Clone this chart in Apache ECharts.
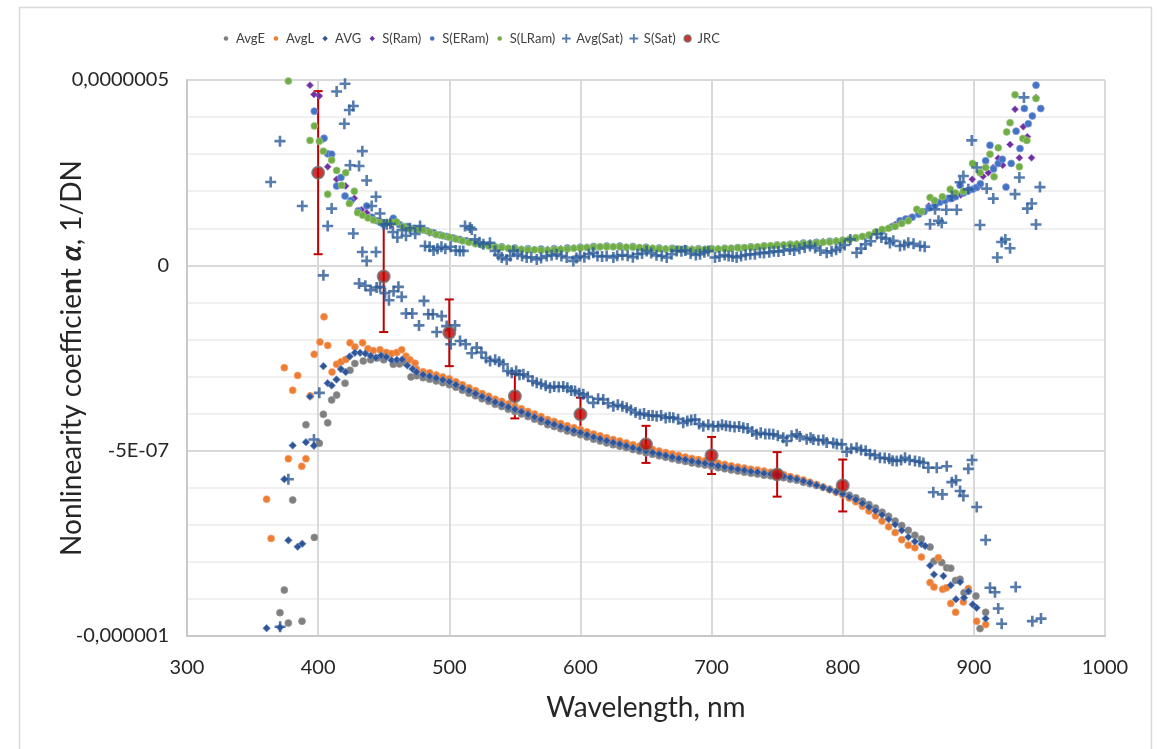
<!DOCTYPE html>
<html>
<head>
<meta charset="utf-8">
<script src="https://cdn.jsdelivr.net/npm/echarts@6/dist/echarts.min.js"></script>
<style>
  html, body { margin: 0; padding: 0; background: #ffffff; }
  #chart { width: 1158px; height: 749px; }
</style>
</head>
<body>
<div id="chart"></div>
<script>
// Nonlinearity coefficient vs wavelength. Values are [wavelength nm, alpha in units of 1e-7 1/DN].

const avgE = [
  [370.9,-9.37],[374.2,-8.76],[377.3,-9.65],[380.6,-6.33],[387.7,-9.6],[390.7,-4.3],[397.1,-7.34],
  [400.9,-4.8],[404,-4.02],[407.3,-4.25],[410.3,-3.63],[414.1,-3.5],[420.5,-3.18],[424.3,-2.83],
  [428,-2.65],[434.4,-2.58],[440,-2.55],[445,-2.5],[450,-2.55],[457.3,-2.67],[462,-2.66],[466,-2.62],
  [470.8,-3.01],[475,-2.98],[480,-3.03],[485,-3.07],[490,-3.12],[495,-3.17],[500,-3.22],[505,-3.29],
  [510,-3.37],[515,-3.45],[520,-3.52],[525,-3.6],[530,-3.67],[535,-3.75],[540,-3.81],[545,-3.88],
  [550,-3.94],[555,-4.01],[560,-4.08],[565,-4.15],[570,-4.22],[575,-4.3],[580,-4.35],[585,-4.41],
  [590,-4.47],[595,-4.52],[600,-4.57],[605,-4.63],[610,-4.69],[615,-4.74],[620,-4.79],[625,-4.84],
  [630,-4.88],[635,-4.92],[640,-4.97],[645,-5.01],[650,-5.06],[655,-5.1],[660,-5.14],[665,-5.18],
  [670,-5.22],[675,-5.26],[680,-5.29],[685,-5.33],[690,-5.36],[695,-5.39],[700,-5.42],[705,-5.46],
  [710,-5.49],[715,-5.52],[720,-5.55],[725,-5.58],[730,-5.61],[735,-5.63],[740,-5.66],[745,-5.68],
  [750,-5.7],[755,-5.73],[760,-5.77],[765,-5.8],[770,-5.85],[775,-5.89],[780,-5.94],[785,-5.99],
  [790,-6.04],[795,-6.1],[800,-6.14],[805,-6.2],[810,-6.27],[815,-6.36],[820,-6.45],[825,-6.55],
  [830,-6.66],[835,-6.77],[840,-6.9],[845,-7.02],[850,-7.15],[855,-7.28],[860,-7.38],[866.6,-7.6],
  [869.6,-7.98],[875.5,-8.02],[879.3,-8.16],[882.4,-8.17],[886,-8.5],[889.5,-8.47],[892.5,-8.83],
  [895.8,-8.79],[901.6,-8.92],[904.7,-9.8],[909,-9.36]
];

const avgL = [
  [360.7,-6.31],[364.1,-7.37],[374.2,-2.76],[377.3,-5.22],[380.6,-3.37],[384.4,-2.97],[387.5,-5.42],
  [390.7,-5.22],[394,-3.52],[397,-2.4],[401.4,-2.07],[404.5,-1.39],[407.3,-2.16],[410.6,-2.88],
  [414.1,-2.67],[417.5,-2.6],[421,-2.54],[424.3,-2.09],[428,-2.2],[433.9,-2.09],[438,-2.25],[442,-2.3],
  [447.2,-2.28],[452,-2.35],[456,-2.38],[460,-2.35],[463.7,-2.28],[467,-2.45],[470,-2.55],[473.9,-2.64],
  [475,-2.8],[480,-2.87],[485,-2.9],[490,-2.96],[495,-3.01],[500,-3.06],[505,-3.14],[510,-3.22],
  [515,-3.3],[520,-3.38],[525,-3.46],[530,-3.53],[535,-3.61],[540,-3.67],[545,-3.74],[550,-3.8],
  [555,-3.87],[560,-3.94],[565,-4.01],[570,-4.08],[575,-4.16],[580,-4.21],[585,-4.27],[590,-4.33],
  [595,-4.38],[600,-4.43],[605,-4.49],[610,-4.55],[615,-4.6],[620,-4.65],[625,-4.7],[630,-4.74],
  [635,-4.79],[640,-4.84],[645,-4.88],[650,-4.93],[655,-4.97],[660,-5.01],[665,-5.05],[670,-5.09],
  [675,-5.13],[680,-5.17],[685,-5.21],[690,-5.24],[695,-5.27],[700,-5.3],[705,-5.34],[710,-5.37],
  [715,-5.41],[720,-5.44],[725,-5.47],[730,-5.5],[735,-5.52],[740,-5.55],[745,-5.58],[750,-5.61],
  [755,-5.65],[760,-5.7],[765,-5.74],[770,-5.79],[775,-5.85],[780,-5.91],[785,-5.98],[790,-6.05],
  [795,-6.12],[800,-6.19],[805,-6.28],[810,-6.38],[815,-6.5],[820,-6.63],[825,-6.76],[830,-6.9],
  [835,-7.05],[840,-7.21],[845,-7.4],[850,-7.55],[855,-7.62],[860,-7.87],[866.6,-8.56],[869.6,-8.68],
  [872.9,-7.89],[876.2,-8.74],[879,-8.7],[882.4,-9.12],[886.1,-9.36],[892,-9.08],[895.8,-8.72],
  [902.1,-9.6],[909,-9.69]
];

const avg = [
  [360.7,-9.79],[370.9,-9.77],[374.2,-5.77],[377.3,-7.42],[380.6,-4.86],[384.4,-7.59],[387.9,-7.51],
  [390.7,-4.77],[393.8,-3.54],[396.8,-4.87],[404,-2.72],[407.3,-3.18],[410.3,-3.24],[414,-3.08],
  [417.4,-2.8],[421,-2.88],[424,-2.46],[428,-2.36],[432,-2.36],[436,-2.38],[440,-2.44],[444,-2.49],
  [448,-2.43],[452,-2.47],[456,-2.56],[460,-2.55],[464,-2.54],[468,-2.7],[472,-2.8],[475,-2.88],
  [480,-2.95],[485,-2.99],[490,-3.04],[495,-3.09],[500,-3.14],[505,-3.22],[510,-3.3],[515,-3.38],
  [520,-3.46],[525,-3.54],[530,-3.61],[535,-3.69],[540,-3.75],[545,-3.82],[550,-3.88],[555,-3.95],
  [560,-4.02],[565,-4.09],[570,-4.16],[575,-4.24],[580,-4.29],[585,-4.35],[590,-4.41],[595,-4.46],
  [600,-4.51],[605,-4.57],[610,-4.63],[615,-4.68],[620,-4.73],[625,-4.78],[630,-4.82],[635,-4.87],
  [640,-4.92],[645,-4.96],[650,-5.01],[655,-5.05],[660,-5.09],[665,-5.13],[670,-5.17],[675,-5.21],
  [680,-5.24],[685,-5.28],[690,-5.31],[695,-5.34],[700,-5.37],[705,-5.41],[710,-5.44],[715,-5.47],
  [720,-5.5],[725,-5.53],[730,-5.56],[735,-5.58],[740,-5.61],[745,-5.63],[750,-5.65],[755,-5.69],
  [760,-5.73],[765,-5.77],[770,-5.82],[775,-5.87],[780,-5.93],[785,-5.99],[790,-6.05],[795,-6.11],
  [800,-6.17],[805,-6.24],[810,-6.32],[815,-6.42],[820,-6.52],[825,-6.62],[830,-6.73],[835,-6.85],
  [840,-6.99],[845,-7.15],[850,-7.33],[855,-7.45],[860,-7.52],[862.8,-7.57],[866.6,-8.1],[869.6,-8.34],
  [876.8,-8.38],[882.4,-8.63],[886.4,-9.01],[889.5,-8.54],[892.5,-8.97],[895.8,-8.79],[899.1,-9.15],
  [902.1,-9.24],[909,-9.53]
];

const sRam = [
  [393.8,4.86],[396.8,4.61],[400.9,4.57],[404,3.4],[407.3,2.66],[414.1,2.32],[421,2.14],[427.6,1.81],
  [433,1.5],[437,1.42],[440,1.3],[448,1.18],[456,1.1],[465,1.02],[475,0.95],[485,0.87],[495,0.8],
  [505,0.72],[515,0.64],[525,0.56],[535,0.5],[545,0.46],[555,0.44],[565,0.43],[575,0.43],[585,0.45],
  [595,0.47],[605,0.49],[615,0.5],[625,0.5],[635,0.49],[645,0.48],[655,0.46],[665,0.45],[675,0.44],
  [685,0.44],[695,0.44],[705,0.45],[715,0.46],[725,0.48],[735,0.5],[745,0.53],[755,0.56],[765,0.58],
  [775,0.61],[785,0.64],[795,0.67],[805,0.71],[815,0.78],[825,0.9],[840,1.1],[850,1.25],[858,1.4],
  [865.6,1.6],[872,1.7],[878,1.75],[884,1.8],[890,1.9],[894,2.0],[898.8,2.32],[903,2.1],[907,2.4],
  [911,2.5],[914.8,2.64],[918.6,2.89],[922,2.7],[927.6,3.26],[931.4,4.21],[934.7,2.9],[937.7,3.74],
  [940.8,3.47],[944,2.9],[947.4,4.53]
];

const sERam = [
  [397.1,4.16],[404.5,3.43],[407.3,3.01],[410.3,3.0],[414.1,2.14],[417.4,2.37],[420.5,1.87],[425,1.75],
  [430.6,1.47],[437,1.6],[441,1.3],[445,1.2],[449.7,1.11],[457.3,1.27],[462,1.1],[468,1.05],[473,1.0],
  [478,0.98],[483,0.93],[488,0.88],[493,0.82],[498,0.78],[503,0.74],[508,0.7],[513,0.66],[520,0.6],
  [530,0.55],[540,0.5],[550,0.47],[560,0.45],[570,0.44],[580,0.45],[590,0.47],[600,0.49],[610,0.51],
  [620,0.52],[630,0.52],[640,0.51],[650,0.49],[660,0.47],[670,0.46],[680,0.45],[690,0.45],[700,0.45],
  [710,0.46],[720,0.48],[730,0.5],[740,0.52],[750,0.55],[760,0.57],[770,0.6],[780,0.62],[790,0.65],
  [800,0.68],[810,0.74],[820,0.8],[830,0.92],[838,1.05],[843.7,1.2],[848,1.25],[853,1.3],[858,1.38],
  [862,1.45],[866,1.55],[870.4,1.62],[874,1.7],[878,1.75],[882,1.8],[886,1.85],[889.5,2.16],[892,1.95],
  [895.8,2.02],[899,2.05],[902,2.1],[905,2.2],[909,2.82],[912.3,3.24],[915,2.6],[918.6,2.75],
  [921.7,2.86],[924.5,2.11],[928.5,2.75],[932.2,3.62],[935.2,3.15],[938.5,4.23],[941.5,3.82],
  [944.6,4.03],[947.4,4.86],[951,4.23]
];

const sLRam = [
  [377.3,4.97],[393.8,3.37],[397.1,3.76],[400.9,3.35],[404,3.08],[407.3,1.92],[410.3,2.84],[414.1,2.56],
  [418,2.16],[421,2.5],[423.8,1.67],[427.6,2.0],[430.1,1.42],[434,1.35],[438,1.28],[442.1,1.22],
  [447.2,1.17],[452,1.15],[456,1.16],[459.9,1.17],[465,1.05],[470,0.99],[475,0.97],[480,0.95],
  [485,0.9],[490,0.83],[495,0.8],[500,0.76],[505,0.71],[510,0.66],[515,0.62],[520,0.58],[525,0.55],
  [530,0.52],[535,0.5],[540,0.48],[545,0.46],[550,0.45],[555,0.43],[560,0.42],[565,0.42],[570,0.41],
  [575,0.41],[580,0.42],[585,0.43],[590,0.44],[595,0.46],[600,0.47],[605,0.48],[610,0.49],[615,0.5],
  [620,0.5],[625,0.5],[630,0.5],[635,0.49],[640,0.49],[645,0.48],[650,0.47],[655,0.46],[660,0.45],
  [665,0.44],[670,0.44],[675,0.43],[680,0.43],[685,0.43],[690,0.43],[695,0.43],[700,0.44],[705,0.44],
  [710,0.45],[715,0.46],[720,0.47],[725,0.48],[730,0.49],[735,0.5],[740,0.52],[745,0.53],[750,0.54],
  [755,0.55],[760,0.56],[765,0.57],[770,0.58],[775,0.59],[780,0.6],[785,0.62],[790,0.63],[795,0.65],
  [800,0.67],[805,0.7],[810,0.74],[815,0.78],[820,0.82],[825,0.9],[830,0.97],[835,1.0],[840,1.05],
  [845,1.13],[850,1.2],[856.5,1.51],[860,1.45],[866.6,1.83],[870,1.75],[876,1.85],[882,2.05],[886,1.95],
  [892,2.0],[899,2.75],[904.7,2.5],[909,2.64],[912.3,3.0],[915.4,2.39],[918.6,3.17],[925,3.6],
  [927.6,3.85],[931.4,4.6],[934.7,2.66],[937.4,3.42],[940.4,3.37],[947.4,4.5]
];

const avgSat = [
  [371,-9.75],[377.3,-5.77],[396.8,-4.7],[400.9,-3.44],[404,-0.27],[431.2,-0.49],[436,-0.55],[440,-0.67],
  [444.6,-0.6],[447.2,-0.58],[451,-0.75],[454,-0.94],[457.5,-0.7],[461.2,-0.58],[463.7,-0.85],[467,-1.3],
  [471.8,-1.3],[476.9,-1.62],[480.7,-0.96],[484,-1.32],[487.5,-1.32],[490.4,-1.8],[494.2,-1.37],
  [498,-1.64],[501.1,-2.13],[504.4,-1.62],[508.2,-2.04],[512.5,-2.13],[517.1,-2.37],[520.9,-2.22],
  [524.5,-2.35],[528,-2.5],[531.1,-2.58],[535,-2.55],[538,-2.6],[541.2,-2.67],[544.5,-2.85],[547.6,-2.9],
  [551,-2.85],[553.5,-2.95],[556.5,-2.94],[560,-3.0],[563.5,-3.12],[566.7,-3.17],[570,-3.2],[573.5,-3.25],
  [576.8,-3.3],[580,-3.27],[583.5,-3.28],[586.9,-3.27],[590,-3.3],[593,-3.38],[595.9,-3.39],[599,-3.45],
  [602.2,-3.48],[605.5,-3.55],[609.8,-3.71],[613.5,-3.6],[617.4,-3.62],[621,-3.72],[625.1,-3.8],
  [628.5,-3.76],[632,-3.8],[635.3,-3.84],[638.5,-3.9],[642,-3.97],[645.4,-4.02],[648.5,-4.0],[652,-4.05],
  [655,-4.05],[658.1,-4.07],[661.5,-4.05],[665,-4.12],[668,-4.1],[670.8,-4.11],[674.5,-4.15],
  [678.4,-4.25],[681.5,-4.2],[684.5,-4.17],[687.4,-4.16],[690.5,-4.28],[693.7,-4.34],[697.5,-4.3],
  [701.3,-4.34],[705,-4.34],[708,-4.3],[711,-4.33],[714,-4.34],[717.5,-4.36],[721,-4.35],[724.2,-4.38],
  [727.5,-4.4],[731,-4.48],[734.3,-4.56],[737.5,-4.52],[741,-4.55],[744,-4.55],[747,-4.56],[750.5,-4.6],
  [754.7,-4.65],[757.2,-4.74],[761,-4.6],[764.9,-4.56],[767.2,-4.62],[772.5,-4.69],[775.5,-4.65],
  [777.6,-4.7],[781.5,-4.72],[785.2,-4.71],[787.8,-4.78],[792.8,-4.79],[795.5,-4.82],[799.2,-4.83],
  [803,-5.03],[806.5,-4.95],[810.6,-4.92],[814,-4.98],[817.5,-5.0],[820.8,-5.1],[824.5,-5.12],
  [828.4,-5.19],[832,-5.2],[835.5,-5.22],[838,-5.27],[841.2,-5.28],[844.5,-5.25],[847.5,-5.19],
  [851,-5.25],[855.1,-5.28],[858.5,-5.3],[861.5,-5.33],[865.3,-5.46],[869.1,-6.12],[871.7,-5.46],
  [876,-6.18],[879.3,-5.42],[883.2,-5.85],[886.4,-5.8],[889.5,-6.09],[892,-6.22],[895.8,-5.49],
  [898.6,-5.25],[902.2,-6.52],[909,-7.41],[912.3,-8.7],[916.1,-8.82],[918.6,-9.26],[921.2,-9.67],
  [931.9,-8.68],[944.6,-9.6],[951.2,-9.53]
];

const sSat = [
  [363.8,2.25],[370.9,3.35],[387.9,1.6],[407.3,1.06],[410.3,1.53],[414.1,4.69],[420,3.82],[420.5,4.9],
  [423.8,4.19],[424.3,2.7],[426.8,4.3],[426.8,0.86],[431.2,2.68],[433.7,3.08],[433.7,0.36],[437,2.29],
  [437,0.12],[440.8,1.6],[444.1,1.85],[444.1,0.36],[447.2,1.4],[450,1.1],[452.3,1.11],[455,1.12],
  [457,0.9],[460.4,0.75],[464,0.95],[467,0.8],[470,1.0],[474,0.85],[477.7,1.06],[481.5,0.52],[485,0.5],
  [488,0.4],[491,0.45],[494,0.5],[497,0.45],[501,0.5],[505,0.4],[508,0.39],[510.7,0.39],[512,1.06],
  [515.8,1.02],[517.1,0.97],[519.6,0.7],[523,0.62],[526,0.57],[531,0.61],[534.9,0.39],[537.5,0.28],
  [540,0.21],[543.8,0.16],[546.5,0.25],[548.9,0.39],[552,0.3],[555.5,0.25],[559,0.21],[562.5,0.22],
  [566.7,0.16],[570,0.2],[574.3,0.25],[578,0.27],[581.9,0.3],[585.5,0.25],[589.5,0.21],[594.6,0.12],
  [597,0.2],[599.7,0.25],[603,0.22],[606.5,0.3],[609.8,0.34],[613,0.25],[616.5,0.24],[620,0.25],
  [625.1,0.21],[628,0.26],[632,0.28],[636,0.26],[640,0.22],[643.5,0.3],[647,0.32],[650.5,0.39],
  [654,0.33],[658,0.27],[662,0.25],[665.8,0.21],[669.5,0.3],[673.4,0.39],[677,0.38],[680,0.4],
  [684,0.32],[688,0.28],[691.2,0.3],[694.5,0.35],[697.5,0.39],[702.6,0.21],[706,0.24],[710,0.28],
  [713,0.25],[716,0.24],[719.1,0.21],[722.5,0.25],[726,0.28],[729.5,0.3],[733,0.3],[736.9,0.34],
  [740,0.33],[744,0.35],[747.5,0.38],[751,0.37],[755,0.4],[759.7,0.43],[763,0.4],[767,0.45],[771,0.48],
  [775,0.52],[779,0.47],[783,0.4],[787.8,0.34],[791.5,0.38],[795,0.42],[797.9,0.48],[801.5,0.55],
  [805.8,0.7],[810.6,0.34],[814,0.45],[817.3,0.57],[821.5,0.65],[826,0.84],[829.5,0.75],[833,0.72],
  [836,0.6],[838.6,0.66],[843.7,0.52],[847,0.55],[850,0.61],[854,0.58],[859,0.52],[862.5,0.5],
  [866.6,1.11],[870.4,1.51],[873,1.2],[875.5,1.15],[879,1.5],[883.2,1.87],[887,1.5],[889.5,2.24],
  [892,2.41],[895.8,2.05],[898.4,3.37],[902.2,2.64],[904.7,1.09],[909.8,2.07],[914.8,1.8],[917.9,0.21],
  [921.2,0.63],[924,0.7],[927.6,0.46],[931.4,1.92],[934.7,2.37],[938.2,4.53],[940.8,1.53],[944.1,1.67],
  [947.4,1.1],[950.4,2.11]
];

// JRC reference points with their uncertainty (±)
const jrcWl  = [400, 450, 500, 550, 600, 650, 700, 750, 800];
const jrcVal = [2.5, -0.3, -1.82, -3.53, -4.02, -4.83, -5.13, -5.64, -5.94];
const jrcErr = [2.2, 1.5, 0.9, 0.6, 0.45, 0.5, 0.5, 0.6, 0.7];

// Axis ticks: y values are in units of 1e-7
const xTicks = [300, 400, 500, 600, 700, 800, 900, 1000];
const yTicks = [-10, -5, 0, 5];
const yTickText = ['-0,000001', '-5E-07', '0', '0,0000005'];

const FONT = 'Lato, "Open Sans", sans-serif';
const TEXT = '#262626';
const PLUS = 'path://M4.2,0H6.8V4.2H11V6.8H6.8V11H4.2V6.8H0V4.2H4.2Z';

// legend icons: move-to corners fix a 10x10 box so each glyph keeps its own apparent size
const pad = 'M0,0 M10,10 ';
const legCircle = 'path://' + pad + 'M7.3,5A2.3,2.3,0,1,1,2.7,5A2.3,2.3,0,1,1,7.3,5Z';
const legDiamond = 'path://' + pad + 'M5,2.3L7.7,5L5,7.7L2.3,5Z';
const legPlus = 'path://' + pad + 'M4.1,0.6H5.9V4.1H9.4V5.9H5.9V9.4H4.1V5.9H0.6V4.1H4.1Z';
const legJrc = 'path://' + pad + 'M8.5,5A3.5,3.5,0,1,1,1.5,5A3.5,3.5,0,1,1,8.5,5Z';

const chart = echarts.init(document.getElementById('chart'), null, { renderer: 'canvas' });

function dots(name, data, color, border, size, symbol) {
  return {
    name, type: 'scatter', data,
    symbol: symbol || 'circle', symbolSize: size,
    itemStyle: { color, borderColor: border, borderWidth: 1, opacity: 1 },
    emphasis: { disabled: true }, animation: false
  };
}

chart.setOption({
  backgroundColor: '#ffffff',
  animation: false,
  textStyle: { fontFamily: FONT },
  graphic: [{
    type: 'rect', silent: true, z: -10,
    shape: { x: 19.5, y: 7.5, width: 1132, height: 760 },
    style: { fill: 'none', stroke: '#d9d9d9', lineWidth: 1.5 }
  }],
  legend: {
    left: 216, top: 27,
    itemWidth: 10, itemHeight: 10, itemGap: 6,
    textStyle: { fontFamily: FONT, fontSize: 13, color: '#404040' },
    selectedMode: false,
    data: [
      { name: 'AvgE', icon: legCircle, itemStyle: { color: '#7f7f7f', borderWidth: 0 } },
      { name: 'AvgL', icon: legCircle, itemStyle: { color: '#ED7D31', borderWidth: 0 } },
      { name: 'AVG', icon: legDiamond, itemStyle: { color: '#2F5597', borderWidth: 0 } },
      { name: 'S(Ram)', icon: legDiamond, itemStyle: { color: '#7030A0', borderWidth: 0 } },
      { name: 'S(ERam)', icon: legCircle, itemStyle: { color: '#4472C4', borderWidth: 0 } },
      { name: 'S(LRam)', icon: legCircle, itemStyle: { color: '#70AD47', borderWidth: 0 } },
      { name: 'Avg(Sat)', icon: legPlus, itemStyle: { color: '#2A5893', borderWidth: 0 } },
      { name: 'S(Sat)', icon: legPlus, itemStyle: { color: '#2C5C98', borderWidth: 0 } },
      { name: 'JRC', icon: legJrc, itemStyle: { color: '#C00000', borderColor: '#6f6f6f', borderWidth: 1.5 } }
    ]
  },
  grid: { left: 187, right: 53, top: 80, bottom: 113, containLabel: false, outerBoundsMode: 'none' },
  xAxis: {
    type: 'value', min: xTicks[0], max: xTicks[xTicks.length - 1], interval: 100,
    name: 'Wavelength, nm', nameLocation: 'middle', nameGap: 58, nameMoveOverlap: false,
    nameTextStyle: { fontFamily: FONT, fontSize: 28, color: TEXT },
    axisLine: { show: true, onZero: false, lineStyle: { color: '#c8c8c8', width: 2 } },
    axisTick: { show: false },
    axisLabel: { fontFamily: FONT, fontSize: 20, color: TEXT, margin: 22, formatter: v => String(v) },
    splitLine: { show: true, lineStyle: { color: '#d9d9d9', width: 2 } }
  },
  yAxis: {
    type: 'value', min: yTicks[0], max: yTicks[yTicks.length - 1], interval: 5,
    name: 'Nonlinearity coefficie{b|n}t {a|α}, 1/DN', nameLocation: 'middle', nameGap: 101,
    nameMoveOverlap: false,
    nameTextStyle: {
      fontFamily: FONT, fontSize: 28, color: TEXT,
      rich: {
        b: { fontFamily: FONT, fontSize: 28, fontWeight: 'bold', color: TEXT },
        a: { fontFamily: FONT, fontSize: 28, fontWeight: 'bold', fontStyle: 'italic', color: TEXT }
      }
    },
    axisLine: { show: true, onZero: false, lineStyle: { color: '#c8c8c8', width: 2 } },
    axisTick: { show: false },
    axisLabel: {
      fontFamily: FONT, fontSize: 20, color: TEXT, margin: 18,
      formatter: v => { const i = yTicks.indexOf(v); return i >= 0 ? yTickText[i] : ''; }
    },
    splitLine: { show: true, lineStyle: { color: '#d9d9d9', width: 2 } },
    minorTick: { show: false, splitNumber: 5 },
    minorSplitLine: { show: true, lineStyle: { color: '#f0f0f0', width: 2 } }
  },
  series: [
    dots('AvgE', avgE, '#7f7f7f', 'rgba(150,150,150,0.7)', 7),
    dots('AvgL', avgL, '#ED7D31', 'rgba(245,160,110,0.7)', 7),
    dots('AVG', avg, '#2F5597', 'rgba(110,140,200,0.8)', 7.5, 'diamond'),
    dots('S(Ram)', sRam, '#7030A0', 'rgba(160,110,200,0.7)', 7, 'diamond'),
    dots('S(ERam)', sERam, '#4472C4', 'rgba(130,160,220,0.7)', 7),
    dots('S(LRam)', sLRam, '#70AD47', 'rgba(160,200,130,0.7)', 7),
    {
      name: 'Avg(Sat)', type: 'scatter', data: avgSat, symbol: PLUS, symbolSize: 11,
      itemStyle: { color: '#2A5893' }, emphasis: { disabled: true }
    },
    {
      name: 'S(Sat)', type: 'scatter', data: sSat, symbol: PLUS, symbolSize: 11,
      itemStyle: { color: '#2C5C98' }, emphasis: { disabled: true }
    },
    {
      name: 'JRC uncertainty', type: 'custom',
      data: jrcWl.map((w, i) => [w, jrcVal[i], jrcErr[i]]),
      renderItem: (params, api) => {
        const x = api.value(0), y = api.value(1), e = api.value(2);
        const top = api.coord([x, y + e]);
        const bot = api.coord([x, y - e]);
        const st = { stroke: '#C00000', lineWidth: 2 };
        const cap = 4.5;
        return {
          type: 'group',
          children: [
            { type: 'line', shape: { x1: top[0], y1: top[1], x2: bot[0], y2: bot[1] }, style: st },
            { type: 'line', shape: { x1: top[0] - cap, y1: top[1], x2: top[0] + cap, y2: top[1] }, style: st },
            { type: 'line', shape: { x1: bot[0] - cap, y1: bot[1], x2: bot[0] + cap, y2: bot[1] }, style: st }
          ]
        };
      },
      silent: true
    },
    {
      name: 'JRC', type: 'scatter',
      data: jrcWl.map((w, i) => [w, jrcVal[i]]),
      symbol: 'circle', symbolSize: 12,
      itemStyle: { color: '#C00000', borderColor: '#6f6f6f', borderWidth: 2 },
      emphasis: { disabled: true }
    }
  ]
});
</script>
</body>
</html>
